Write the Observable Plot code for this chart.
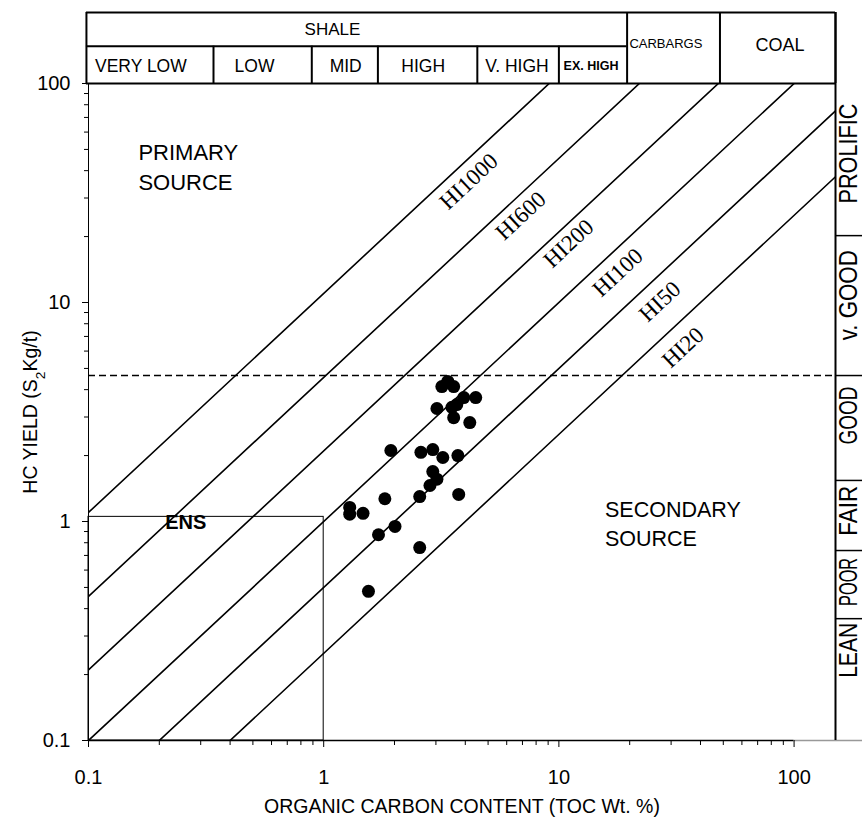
<!DOCTYPE html>
<html><head><meta charset="utf-8">
<script src="https://cdn.jsdelivr.net/npm/d3@7"></script>
<script src="https://cdn.jsdelivr.net/npm/@observablehq/plot@0.6"></script>
<style>body{margin:0;background:#fff} svg{display:block}</style>
</head><body><div id="chart"></div>
<script>
// Sample values (TOC wt.% vs S2 kg/t)
const toc = [3.18,3.37,3.57,3.94,4.43,3.03,3.51,3.68,3.57,4.18,1.93,2.59,2.91,3.21,3.72,2.91,3.03,2.83,1.82,2.56,3.75,1.29,1.29,1.47,1.71,2.01,2.56,1.55];
const s2  = [4.13,4.36,4.13,3.68,3.68,3.28,3.32,3.42,2.98,2.83,2.11,2.07,2.13,1.96,2.00,1.69,1.56,1.46,1.27,1.30,1.33,1.16,1.08,1.09,0.87,0.95,0.76,0.48];

// HI reference lines (S2 per unit TOC as drawn) and label anchors
const hiLabels = ["HI1000","HI600","HI200","HI100","HI50","HI20"];
const hiRatios = [11, 4.55, 2.1, 1.0, 0.5, 0.25];
const hiLabelToc = [4.14, 6.89, 11.0, 17.8, 26.9, 33.7];
const hiLabelS2  = [35.7, 24.9, 18.6, 13.7, 10.1, 6.23];

// axes
const majorTicks = [0.1, 1, 10, 100];
const tickLabels = ["0.1", "1", "10", "100"];
const minorTicks = [0.2,0.3,0.4,0.5,0.6,0.7,0.8,0.9,2,3,4,5,6,7,8,9,20,30,40,50,60,70,80,90];

// header classes (TOC)
const shaleClasses = ["VERY LOW","LOW","MID","HIGH","V. HIGH","EX. HIGH"];
const shaleBounds  = [0.098, 0.34, 0.89, 1.7, 4.5, 10, 19.5];
const shaleLabelX  = [0.167, 0.508, 1.24, 2.65, 6.63, 13.7];
const otherClasses = ["CARBARGS","COAL"];
const otherBounds  = [19.5, 48.4, 150];
const otherLabelX  = [28.5, 87.2];

// right-side potential classes (S2)
const potentialClasses = ["PROLIFIC","v. GOOD","GOOD","FAIR","POOR","LEAN"];
const potentialBounds  = [20.2, 4.64, 1.54, 0.737, 0.36];
const potentialLabelY  = [47.9, 10.8, 3.05, 1.12, 0.53, 0.258];
const potentialLabelLen = [100, 90, 58, 50, 48, 55];

const dashedS2 = 4.64;
const ensToc = [0.1, 1];
const ensS2 = [0.1, 1.05];

// header/strip levels in data units (beyond the frame)
const headerTop = 211, headerMid = 148, headerBottom = 100;
const stripRight = 196, stripLabelX = 171.4;
const xMin = 0.1, xMax = 150, yMin = 0.1, yMax = 100;

const points = toc.map((t, i) => ({toc: t, s2: s2[i]}));
const hiRows = hiRatios.flatMap((r, i) => [
  {label: hiLabels[i], toc: xMin, s2: r * xMin},
  {label: hiLabels[i], toc: xMax, s2: r * xMax}
]);

const hRules = [
  {y: headerTop, x1: shaleBounds[0], x2: xMax},
  {y: headerMid, x1: shaleBounds[0], x2: otherBounds[0]},
  {y: headerBottom, x1: shaleBounds[0], x2: xMax}
];
const vShort = shaleBounds.slice(1, -1).map(x => ({x, y1: headerBottom, y2: headerMid}));
const vTall = [shaleBounds[0], ...otherBounds].map(x => ({x, y1: headerBottom, y2: headerTop}));

const sans = "Liberation Sans, Arial, sans-serif";

const plot = Plot.plot({
  width: 862, height: 826,
  marginLeft: 88, marginRight: 27, marginTop: 83, marginBottom: 86,
  style: {fontFamily: sans, background: "white", color: "black"},
  x: {type: "log", domain: [xMin, xMax]},
  y: {type: "log", domain: [yMin, yMax]},
  marks: [
    // ENS box
    Plot.rect([0], {x1: ensToc[0], x2: ensToc[1], y1: ensS2[0], y2: ensS2[1], fill: "none", stroke: "black", strokeWidth: 1}),
    // HI lines
    Plot.line(hiRows, {x: "toc", y: "s2", z: "label", stroke: "black", strokeWidth: 1.6, clip: true}),
    // dashed threshold
    Plot.ruleY([dashedS2], {x1: xMin, x2: xMax, stroke: "black", strokeWidth: 1.5, strokeDasharray: "7,4"}),
    // frame lines
    Plot.ruleX([xMin], {y1: yMin, y2: yMax, stroke: "black", strokeWidth: 1}),
    Plot.ruleY([yMin], {x1: xMin, x2: 100, stroke: "black", strokeWidth: 1.5}),
    Plot.ruleY([yMin], {x1: 100, x2: stripRight, stroke: "#999", strokeWidth: 1.5}),
    Plot.ruleX([xMax], {y1: yMin, y2: headerTop, stroke: "black", strokeWidth: 2}),
    // header
    Plot.ruleY(hRules, {y: "y", x1: "x1", x2: "x2", stroke: "black", strokeWidth: 2}),
    Plot.ruleX(vShort, {x: "x", y1: "y1", y2: "y2", stroke: "black", strokeWidth: 2}),
    Plot.ruleX(vTall, {x: "x", y1: "y1", y2: "y2", stroke: "black", strokeWidth: 2}),
    Plot.text(["SHALE"], {x: 1.09, y: 176.5, fontSize: 17}),
    Plot.text(shaleClasses.slice(0, 5), {x: (d, i) => shaleLabelX[i], y: 120.2, fontSize: 17.5}),
    Plot.text([shaleClasses[5]], {x: shaleLabelX[5], y: 120.2, fontSize: 12.5, fontWeight: "bold"}),
    Plot.text([otherClasses[0]], {x: otherLabelX[0], y: 152.3, fontSize: 13}),
    Plot.text([otherClasses[1]], {x: otherLabelX[1], y: 150, fontSize: 18}),
    // right strip
    Plot.ruleY(potentialBounds, {x1: xMax, x2: stripRight, stroke: "black", strokeWidth: 1.5}),
    Plot.text(potentialClasses, {x: stripLabelX, y: (d, i) => potentialLabelY[i], rotate: -90, fontSize: 25, className: "strip-label"}),
    // axes
    Plot.axisX(minorTicks, {tickSize: 5, fill: "none", label: null}),
    Plot.axisX(majorTicks, {tickSize: 7, tickPadding: 22, fontSize: 20, label: null, tickFormat: d => tickLabels[majorTicks.indexOf(d)]}),
    Plot.axisY(minorTicks, {tickSize: 4, fill: "none", label: null}),
    Plot.axisY(majorTicks, {tickSize: 6, tickPadding: 12, fontSize: 20, label: null, tickFormat: d => tickLabels[majorTicks.indexOf(d)]}),
    Plot.text(["ORGANIC CARBON CONTENT (TOC Wt. %)"], {frameAnchor: "bottom", dy: 66, lineAnchor: "middle", textAnchor: "middle", fontSize: 19.5}),
    Plot.text(["HC YIELD (S2Kg/t)"], {frameAnchor: "left", dx: -58, rotate: -90, textAnchor: "middle", lineAnchor: "middle", fontSize: 19.5}),
    // HI labels
    Plot.text(hiLabels, {x: (d, i) => hiLabelToc[i], y: (d, i) => hiLabelS2[i], rotate: -43, fontSize: 23, fontFamily: "Liberation Serif, Times New Roman, serif"}),
    // region labels
    Plot.text(["PRIMARY\nSOURCE"], {x: 0.163, y: 42.2, textAnchor: "start", fontSize: 22, lineHeight: 1.35}),
    Plot.text(["SECONDARY\nSOURCE"], {x: 15.7, y: 0.99, textAnchor: "start", fontSize: 21.5, lineHeight: 1.35}),
    Plot.text(["ENS"], {x: 0.259, y: 0.99, fontSize: 20, fontWeight: "bold"}),
    // samples
    Plot.dot(points, {x: "toc", y: "s2", r: 6.5, fill: "black", stroke: "none"})
  ]
});

// subscript in y-axis title
d3.select(plot).selectAll("text").filter(function() { return this.textContent === "HC YIELD (S2Kg/t)"; })
  .each(function() {
    const t = d3.select(this);
    t.text(null);
    t.append("tspan").text("HC YIELD (S");
    t.append("tspan").attr("baseline-shift", "sub").attr("font-size", "70%").text("2");
    t.append("tspan").text("Kg/t)");
  });

// condensed look of the strip labels (narrow face in the original)
d3.select(plot).selectAll("g.strip-label text").each(function() {
  const i = potentialClasses.indexOf(this.textContent);
  if (i >= 0) d3.select(this).attr("textLength", potentialLabelLen[i]).attr("lengthAdjust", "spacingAndGlyphs");
});

document.getElementById("chart").appendChild(plot);
</script>
</body></html>
